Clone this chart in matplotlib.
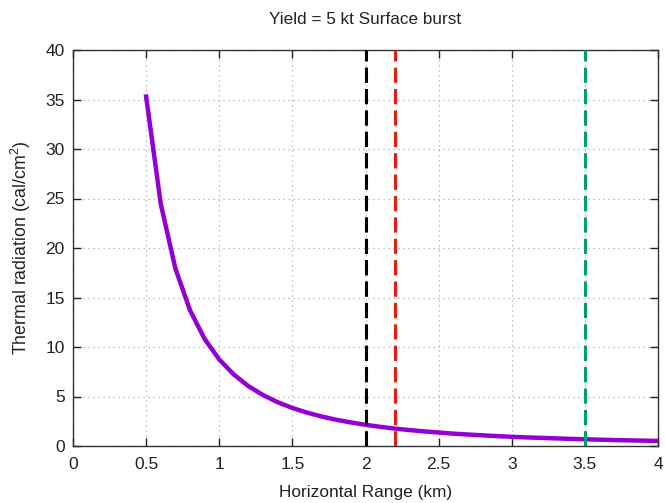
import matplotlib
matplotlib.use('Agg')
import matplotlib.pyplot as plt

plt.rcParams['font.family'] = ['Liberation Sans', 'DejaVu Sans']
plt.rcParams['mathtext.fontset'] = 'custom'
plt.rcParams['mathtext.rm'] = 'Liberation Sans'
plt.rcParams['mathtext.it'] = 'Liberation Sans'

# horizontal range (km) and thermal radiation (cal/cm^2)
rng = [0.5, 0.6, 0.7, 0.8, 0.9, 1.0, 1.1, 1.2, 1.3, 1.4, 1.5, 1.6, 1.7, 1.8,
       1.9, 2.0, 2.1, 2.2, 2.3, 2.4, 2.5, 2.6, 2.7, 2.8, 2.9, 3.0, 3.1, 3.2,
       3.3, 3.4, 3.5, 3.6, 3.7, 3.8, 3.9, 4.0]
thermal = [35.30, 24.46, 17.94, 13.71, 10.81, 8.74, 7.21, 6.04, 5.14, 4.42,
           3.84, 3.37, 2.98, 2.65, 2.38, 2.14, 1.94, 1.76, 1.61, 1.48, 1.36,
           1.25, 1.16, 1.08, 1.00, 0.93, 0.87, 0.82, 0.77, 0.72, 0.68, 0.64,
           0.60, 0.57, 0.54, 0.51]

# vertical marker ranges (km)
marks = [2.0, 2.2, 3.5]
mark_colors = ['#000000', '#e51e10', '#009e73']

fig = plt.figure(figsize=(6.65, 5.03), dpi=100)
ax = fig.add_axes([73/665, 57/503, 585/665, 396/503])

ax.plot(rng, thermal, color='#9400d3', lw=3.2, zorder=3)
for xm, c in zip(marks, mark_colors):
    ax.axvline(xm, color=c, lw=2.2, ls=(0, (5, 2)), zorder=4)

ax.set_xlim(0, 4)
ax.set_ylim(0, 40)
ax.set_xticks([0, 0.5, 1, 1.5, 2, 2.5, 3, 3.5, 4])
ax.set_xticklabels(['0', '0.5', '1', '1.5', '2', '2.5', '3', '3.5', '4'])
ax.set_yticks(range(0, 41, 5))
ax.tick_params(direction='in', top=True, right=True, length=6, width=1,
               labelsize=12.5, pad=8, colors='#222222')
ax.tick_params(axis='y', pad=6)
ax.grid(True, ls=(0, (1, 3)), color='#aaaaaa', lw=0.9)
for sp in ax.spines.values():
    sp.set_color('#333333')
    sp.set_linewidth(1.0)

ax.set_title('Yield = 5 kt Surface burst', fontsize=12.3, pad=19, color='#222222')
ax.set_xlabel('Horizontal Range (km)', fontsize=12.4, labelpad=9, color='#222222')
ax.set_ylabel('Thermal radiation (cal/cm$^2$)', fontsize=12.8, labelpad=9,
              color='#222222')

fig.savefig('out.png', dpi=100)
